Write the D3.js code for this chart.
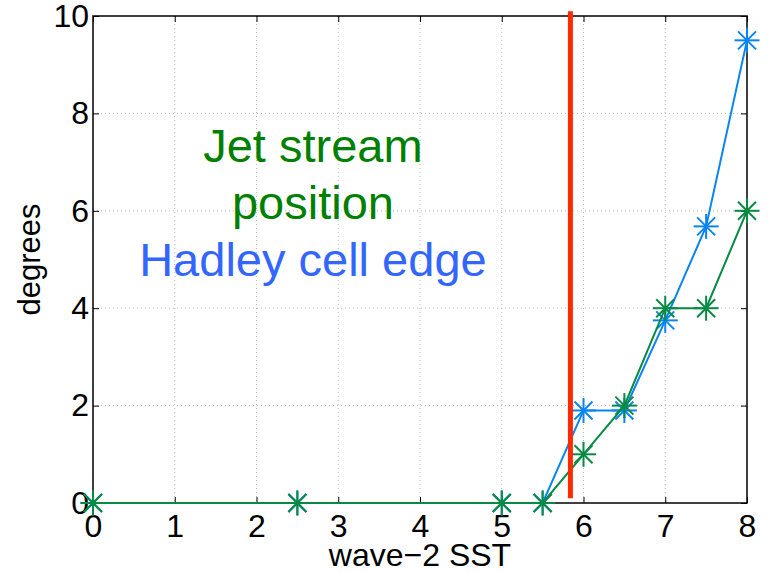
<!DOCTYPE html>
<html>
<head>
<meta charset="utf-8">
<script src="https://cdn.jsdelivr.net/npm/d3@7"></script>
<style>
  body { margin: 0; background: #fff; }
  svg { font-family: "Liberation Sans", Arial, Helvetica, sans-serif; }
  .grid line { stroke: #b8b8b8; stroke-width: 1; stroke-dasharray: 1,3; }
  .tick text { font-size: 32px; fill: #000; }
  .tick line { stroke: #000; stroke-width: 1; }
</style>
</head>
<body>
<svg id="chart"></svg>
<script>
'use strict';

var sstX = [0, 2.5, 5, 5.5, 6, 6.5, 7, 7.5, 8];
var hadleyY = [0, 0, 0, 0, 1.9, 1.9, 3.75, 5.68, 9.5];
var jetY = [0, 0, 0, 0, 1, 2, 4, 4, 6];
var redX = [5.84, 5.84];
var redY = [0.1, 10.1];
var xTicks = [0, 1, 2, 3, 4, 5, 6, 7, 8];
var yTicks = [0, 2, 4, 6, 8, 10];

var w = 769,
    h = 572,
    pLeft = 93,
    pRight = 747,
    pTop = 16,
    pBottom = 503;

var blue = '#0a84f0',
    green = '#078a41';

var svg = d3.select('#chart')
    .attr('width', w)
    .attr('height', h);

var x = d3.scaleLinear().domain([0, 8]).range([pLeft, pRight]);
var y = d3.scaleLinear().domain([0, 10]).range([pBottom, pTop]);

/** dotted grid */
var grid = svg.append('g').attr('class', 'grid');
grid.selectAll('line.gx')
    .data(xTicks.slice(1, -1))
    .enter()
    .append('line')
    .attr('x1', function(d) { return x(d); })
    .attr('x2', function(d) { return x(d); })
    .attr('y1', pTop)
    .attr('y2', pBottom);
grid.selectAll('line.gy')
    .data(yTicks.slice(1, -1))
    .enter()
    .append('line')
    .attr('x1', pLeft)
    .attr('x2', pRight)
    .attr('y1', function(d) { return y(d); })
    .attr('y2', function(d) { return y(d); });

/** axes, ticks pointing inwards */
function noDomain(g) { g.select('.domain').remove(); }

svg.append('g')
    .attr('transform', 'translate(0,' + pBottom + ')')
    .call(d3.axisBottom(x).tickValues(xTicks).tickFormat(d3.format('d'))
        .tickSizeInner(-6).tickSizeOuter(0).tickPadding(11))
    .call(noDomain);
svg.append('g')
    .attr('transform', 'translate(0,' + pTop + ')')
    .call(d3.axisTop(x).tickValues(xTicks).tickFormat('')
        .tickSizeInner(-6).tickSizeOuter(0))
    .call(noDomain);
svg.append('g')
    .attr('transform', 'translate(' + pLeft + ',0)')
    .call(d3.axisLeft(y).tickValues(yTicks).tickFormat(d3.format('d'))
        .tickSizeInner(-6).tickSizeOuter(0).tickPadding(4))
    .call(noDomain);
svg.append('g')
    .attr('transform', 'translate(' + pRight + ',0)')
    .call(d3.axisRight(y).tickValues(yTicks).tickFormat('')
        .tickSizeInner(-6).tickSizeOuter(0))
    .call(noDomain);

svg.selectAll('g').attr('font-size', null).attr('font-family', null);

svg.append('rect')
    .attr('x', pLeft)
    .attr('y', pTop)
    .attr('width', pRight - pLeft)
    .attr('height', pBottom - pTop)
    .attr('fill', 'none')
    .attr('stroke', '#000')
    .attr('stroke-width', 1.5);

/** annotations */
var notes = [
    { t: 'Jet stream', c: '#008000', xv: 2.69, yv: 7.0 },
    { t: 'position', c: '#008000', xv: 2.69, yv: 5.84 },
    { t: 'Hadley cell edge', c: '#3366ff', xv: 2.69, yv: 4.67 }
];
svg.selectAll('text.note')
    .data(notes)
    .enter()
    .append('text')
    .attr('class', 'note')
    .attr('x', function(d) { return x(d.xv); })
    .attr('y', function(d) { return y(d.yv); })
    .attr('text-anchor', 'middle')
    .attr('font-size', 47)
    .attr('fill', function(d) { return d.c; })
    .text(function(d) { return d.t; });

/** series with asterisk markers */
function asterisk(g, r) {
    var d = r * 0.72;
    g.append('line').attr('x1', -r).attr('x2', r).attr('y1', 0).attr('y2', 0);
    g.append('line').attr('x1', 0).attr('x2', 0).attr('y1', -r).attr('y2', r);
    g.append('line').attr('x1', -d).attr('x2', d).attr('y1', -d).attr('y2', d);
    g.append('line').attr('x1', -d).attr('x2', d).attr('y1', d).attr('y2', -d);
}

function series(ys, color) {
    var pts = sstX.map(function(xv, i) { return [xv, ys[i]]; });
    svg.append('path')
        .datum(pts)
        .attr('fill', 'none')
        .attr('stroke', color)
        .attr('stroke-width', 2)
        .attr('d', d3.line()
            .x(function(d) { return x(d[0]); })
            .y(function(d) { return y(d[1]); }));
    svg.append('g')
        .selectAll('g')
        .data(pts)
        .enter()
        .append('g')
        .attr('transform', function(d) { return 'translate(' + x(d[0]) + ',' + y(d[1]) + ')'; })
        .attr('stroke', color)
        .attr('stroke-width', 2)
        .each(function() { asterisk(d3.select(this), 12.5); });
}

series(hadleyY, blue);
series(jetY, green);

/** threshold line */
svg.append('line')
    .attr('x1', x(redX[0]))
    .attr('x2', x(redX[1]))
    .attr('y1', y(redY[0]))
    .attr('y2', y(redY[1]))
    .attr('stroke', '#ff2a00')
    .attr('stroke-width', 5);

/** axis labels */
svg.append('text')
    .attr('x', (pLeft + pRight) / 2)
    .attr('y', 566)
    .attr('text-anchor', 'middle')
    .attr('font-size', 32)
    .text('wave\u22122 SST');

svg.append('text')
    .attr('transform', 'translate(40,' + (pTop + pBottom) / 2 + ') rotate(-90)')
    .attr('text-anchor', 'middle')
    .attr('font-size', 31)
    .text('degrees');
</script>
</body>
</html>
